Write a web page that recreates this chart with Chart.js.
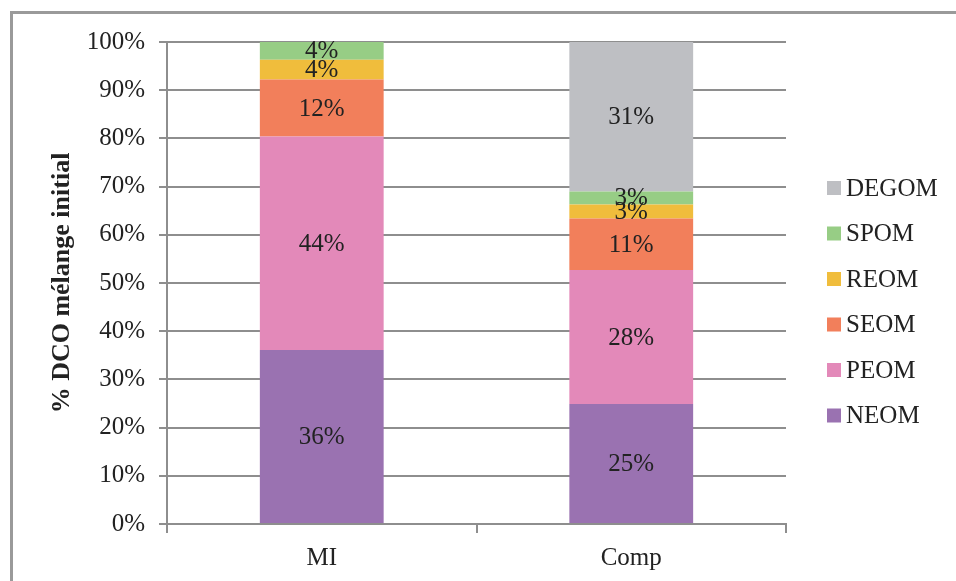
<!DOCTYPE html>
<html>
<head>
<meta charset="utf-8">
<script src="https://cdn.jsdelivr.net/npm/chart.js@4"></script>
<style>
  html, body { margin: 0; padding: 0; background: #fff; }
  #wrap { width: 956px; height: 581px; position: relative; }
</style>
</head>
<body>
<div id="wrap"><canvas id="chart" width="956" height="581"></canvas></div>
<script>
// --- data (% DCO du mélange initial) ---
const categories = ['MI', 'Comp'];
const seriesNames = ['NEOM', 'PEOM', 'SEOM', 'REOM', 'SPOM', 'DEGOM'];
const NEOM  = [36.1, 24.9];
const PEOM  = [44.3, 27.8];
const SEOM  = [11.8, 10.7];
const REOM  = [4.1, 2.9];
const SPOM  = [3.7, 2.7];
const DEGOM = [0, 31.0];
const yTicks = [0, 10, 20, 30, 40, 50, 60, 70, 80, 90, 100];

const seriesValues = [NEOM, PEOM, SEOM, REOM, SPOM, DEGOM];
const seriesColors = ['#9a72b1', '#e389b9', '#f27f5b', '#f0bd3c', '#97cd85', '#bebfc3'];

const FONT = "'Liberation Serif', 'Times New Roman', serif";
const GRID = '#8e8e8e';
const TEXT = '#222222';

// --- plugins ---
const framePlugin = {
    id: 'frame',
    beforeDraw(chart) {
        const ctx = chart.ctx;
        ctx.save();
        ctx.fillStyle = '#fff';
        ctx.fillRect(0, 0, chart.width, chart.height);
        ctx.strokeStyle = '#9a9a9a';
        ctx.lineWidth = 3;
        ctx.beginPath();
        ctx.moveTo(11.5, chart.height);
        ctx.lineTo(11.5, 12.5);
        ctx.lineTo(chart.width, 12.5);
        ctx.stroke();
        ctx.restore();
    }
};

const valueLabels = {
    id: 'valueLabels',
    afterDatasetsDraw(chart) {
        const ctx = chart.ctx;
        ctx.save();
        ctx.font = '25px ' + FONT;
        ctx.fillStyle = TEXT;
        ctx.textAlign = 'center';
        ctx.textBaseline = 'middle';
        chart.data.datasets.forEach((ds, di) => {
            chart.getDatasetMeta(di).data.forEach((bar, i) => {
                const v = ds.data[i];
                if (!v) return;
                ctx.fillText(Math.round(v) + '%', bar.x, (bar.y + bar.base) / 2 + 1);
            });
        });
        ctx.restore();
    }
};

const sideLegend = {
    id: 'sideLegend',
    afterDraw(chart) {
        const ctx = chart.ctx;
        const items = chart.data.datasets.slice().reverse();
        ctx.save();
        ctx.font = '25px ' + FONT;
        ctx.textBaseline = 'middle';
        ctx.textAlign = 'left';
        items.forEach((ds, i) => {
            const y = 188 + i * 45.5;
            ctx.fillStyle = ds.backgroundColor;
            ctx.fillRect(827, y - 7, 14, 14);
            ctx.fillStyle = TEXT;
            ctx.fillText(ds.label, 846, y + 1);
        });
        ctx.restore();
    }
};

// --- chart ---
new Chart(document.getElementById('chart'), {
    type: 'bar',
    data: {
        labels: categories,
        datasets: seriesNames.map((name, i) => ({
            label: name,
            data: seriesValues[i],
            backgroundColor: seriesColors[i],
            borderWidth: 0,
            categoryPercentage: 1,
            barPercentage: 0.4
        }))
    },
    options: {
        responsive: false,
        animation: false,
        layout: { padding: { top: 42, right: 170, bottom: 0, left: 0 } },
        plugins: {
            legend: { display: false },
            tooltip: { enabled: false }
        },
        scales: {
            x: {
                stacked: true,
                afterFit(scale) { scale.height = 57; },
                grid: { display: true, drawOnChartArea: false, drawTicks: true, tickLength: 9, color: GRID, lineWidth: 2, offset: true },
                border: { display: true, color: GRID, width: 2 },
                ticks: { color: TEXT, font: { family: FONT, size: 25 }, padding: 10 }
            },
            y: {
                stacked: true,
                min: 0,
                max: 100,
                afterFit(scale) { scale.width = 167; },
                afterBuildTicks(scale) { scale.ticks = yTicks.map(v => ({ value: v })); },
                grid: { color: GRID, lineWidth: 2, tickLength: 8 },
                border: { display: true, color: GRID, width: 2 },
                ticks: {
                    color: TEXT,
                    font: { family: FONT, size: 25 },
                    padding: 14,
                    callback: v => v + '%'
                },
                title: {
                    display: true,
                    text: '% DCO mélange initial',
                    color: TEXT,
                    font: { family: FONT, size: 26, weight: 'bold' },
                    padding: { top: 47, bottom: 0 }
                }
            }
        }
    },
    plugins: [framePlugin, valueLabels, sideLegend]
});
</script>
</body>
</html>
